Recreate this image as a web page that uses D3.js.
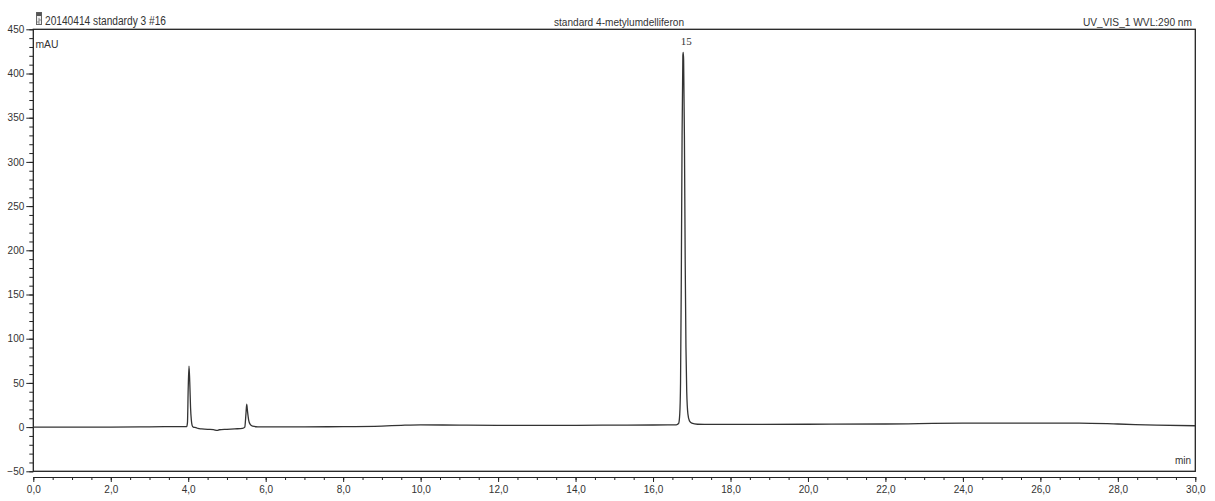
<!DOCTYPE html>
<html>
<head>
<meta charset="utf-8">
<script src="https://cdn.jsdelivr.net/npm/d3@7/dist/d3.min.js"></script>
<style>
  html, body { margin: 0; padding: 0; background: #fff; }
  svg { display: block; }
  .tick text { font-family: "Liberation Sans", Arial, sans-serif; font-size: 10px; fill: #333; }
</style>
</head>
<body>
<svg id="chart" width="1215" height="501"></svg>
<script>
// Chromatogram trace: retention time (min) and detector signal (mAU)
const timeMin = [
  0.0, 1.0, 2.0, 3.0, 3.5, 3.9, 3.96, 3.98, 4.00, 4.02, 4.04, 4.06, 4.08, 4.10, 4.13,
  4.20, 4.25, 4.35, 4.50, 4.65, 4.75, 4.80, 5.00, 5.20, 5.40, 5.46, 5.49, 5.51, 5.53,
  5.56, 5.60, 5.66, 5.80, 6.00, 7.0, 8.0, 9.0, 9.5, 10.0, 11.0, 12.0, 13.0, 14.0, 15.0,
  16.0, 16.50, 16.60, 16.66, 16.69, 16.71, 16.73, 16.75, 16.77, 16.78, 16.79, 16.81,
  16.83, 16.85, 16.87, 16.90, 16.94, 17.00, 17.15, 17.5, 18.0, 20.0, 22.0, 24.0, 26.0,
  27.0, 28.0, 29.0, 30.0
];
const signalMAU = [
  0.0, 0.0, 0.0, 0.3, 0.5, 0.5, 0.5, 5, 45, 69, 50, 22, 8, 2, 0,
  -0.5, -1.5, -2, -2.5, -2.8, -3.8, -3, -2.5, -2, -1.5, 0, 15, 26, 18,
  8, 3, 1, 0.3, 0.2, 0.3, 0.5, 1.2, 2, 2.5, 2.2, 2.0, 2.0, 2.0, 2.2,
  2.4, 2.6, 2.6, 4, 15, 50, 170, 330, 420, 424, 415, 330,
  190, 90, 40, 15, 7, 4.5, 3.2, 3.0, 3.0, 3.2, 3.5, 4.5, 4.5,
  4.5, 3.5, 2.2, 1.5
];

// Axis ticks
const xMajorTicks = [0, 2, 4, 6, 8, 10, 12, 14, 16, 18, 20, 22, 24, 26, 28, 30];
const xMinorTicks = d3.range(0, 30.001, 0.5);
const yMajorTicks = [-50, 0, 50, 100, 150, 200, 250, 300, 350, 400, 450];
const yMinorTicks = d3.range(-50, 450.001, 10);

// Header texts
const headerLeft = "20140414 standardy 3 #16";
const headerCenter = "standard 4-metylumdelliferon";
const headerRight = "UV_VIS_1 WVL:290 nm";
const yUnit = "mAU";
const xUnit = "min";
const peakLabels = [{ t: 16.78, v: 424, label: "15" }];

const svg = d3.select("#chart");

const x = d3.scaleLinear().domain([0, 30]).range([33.3, 1195.3]);
const y = d3.scaleLinear().domain([-50, 450]).range([471.3, 29.3]);

const ink = "#222";

// Y axis (minor then major ticks)
const yAxisMinor = d3.axisLeft(y).tickValues(yMinorTicks).tickSize(4).tickSizeOuter(0).tickFormat("");
const yAxisMajor = d3.axisLeft(y).tickValues(yMajorTicks).tickSize(7).tickSizeOuter(0).tickPadding(2);
const gyMinor = svg.append("g").attr("transform", `translate(${x(0)},0)`).call(yAxisMinor);
const gy = svg.append("g").attr("transform", `translate(${x(0)},0)`).call(yAxisMajor);
[gyMinor, gy].forEach(g => {
  g.select(".domain").remove();
  g.selectAll(".tick line").attr("stroke", ink).attr("stroke-width", 1);
});

// X axis drawn a little below the frame
const xAxisY = 477;
const fmt = d3.format(".1f");
const xAxisMinor = d3.axisBottom(x).tickValues(xMinorTicks).tickSize(3).tickSizeOuter(0).tickFormat("");
const xAxisMajor = d3.axisBottom(x).tickValues(xMajorTicks).tickSize(5).tickSizeOuter(0).tickPadding(4)
  .tickFormat(d => fmt(d).replace(".", ","));
const gxMinor = svg.append("g").attr("transform", `translate(0,${xAxisY})`).call(xAxisMinor);
const gx = svg.append("g").attr("transform", `translate(0,${xAxisY})`).call(xAxisMajor);
gxMinor.select(".domain").remove();
gx.select(".domain").attr("stroke", ink).attr("stroke-width", 1.2);
[gxMinor, gx].forEach(g => g.selectAll(".tick line").attr("stroke", ink).attr("stroke-width", 1));

// Plot frame
svg.append("rect")
  .attr("x", x(0)).attr("y", y(450))
  .attr("width", x(30) - x(0)).attr("height", y(-50) - y(450))
  .attr("fill", "none").attr("stroke", ink).attr("stroke-width", 1.3);

// Trace
const points = timeMin.map((t, i) => [t, signalMAU[i]]);
const line = d3.line().x(d => x(d[0])).y(d => y(d[1])).curve(d3.curveMonotoneX);
svg.append("path")
  .attr("d", line(points))
  .attr("fill", "none")
  .attr("stroke", "#333")
  .attr("stroke-width", 1.3)
  .attr("stroke-linejoin", "round");

// Peak labels
svg.selectAll("text.peak").data(peakLabels).enter().append("text")
  .attr("class", "peak")
  .attr("x", d => x(d.t) + 3)
  .attr("y", d => y(d.v) - 7)
  .attr("text-anchor", "middle")
  .attr("font-family", "'Liberation Serif', 'DejaVu Serif', serif")
  .attr("font-size", 11)
  .attr("fill", "#333")
  .text(d => d.label);

// Header: document icon and titles
const icon = svg.append("g").attr("transform", "translate(36,12)");
icon.append("rect").attr("x", 0.5).attr("y", 0.5).attr("width", 5).attr("height", 12)
  .attr("fill", "#eee").attr("stroke", "#666").attr("stroke-width", 1);
icon.append("rect").attr("x", 0.5).attr("y", 0.5).attr("width", 5).attr("height", 3.5)
  .attr("fill", "#555");
icon.append("path").attr("d", "M2,7 L4,7 L4,9 L2,9 L2,11 L4,11")
  .attr("fill", "none").attr("stroke", "#777").attr("stroke-width", 0.8);

const headFont = "'Liberation Sans', Arial, sans-serif";
svg.append("text").attr("x", 45).attr("y", 25)
  .attr("font-family", headFont).attr("font-size", 12.5).attr("fill", "#333")
  .attr("textLength", 121).attr("lengthAdjust", "spacingAndGlyphs")
  .text(headerLeft);
svg.append("text").attr("x", 554).attr("y", 25.5)
  .attr("font-family", headFont).attr("font-size", 11).attr("fill", "#333")
  .attr("textLength", 130).attr("lengthAdjust", "spacingAndGlyphs")
  .text(headerCenter);
svg.append("text").attr("x", 1083).attr("y", 26)
  .attr("font-family", headFont).attr("font-size", 11).attr("fill", "#333")
  .attr("textLength", 109).attr("lengthAdjust", "spacingAndGlyphs")
  .text(headerRight);

// Axis unit labels inside the frame
svg.append("text").attr("x", 35.5).attr("y", 47.5)
  .attr("font-family", headFont).attr("font-size", 10).attr("fill", "#333")
  .attr("textLength", 23).attr("lengthAdjust", "spacingAndGlyphs")
  .text(yUnit);
svg.append("text").attr("x", 1191).attr("y", 463.5)
  .attr("text-anchor", "end")
  .attr("font-family", headFont).attr("font-size", 10).attr("fill", "#333")
  .text(xUnit);
</script>
</body>
</html>
